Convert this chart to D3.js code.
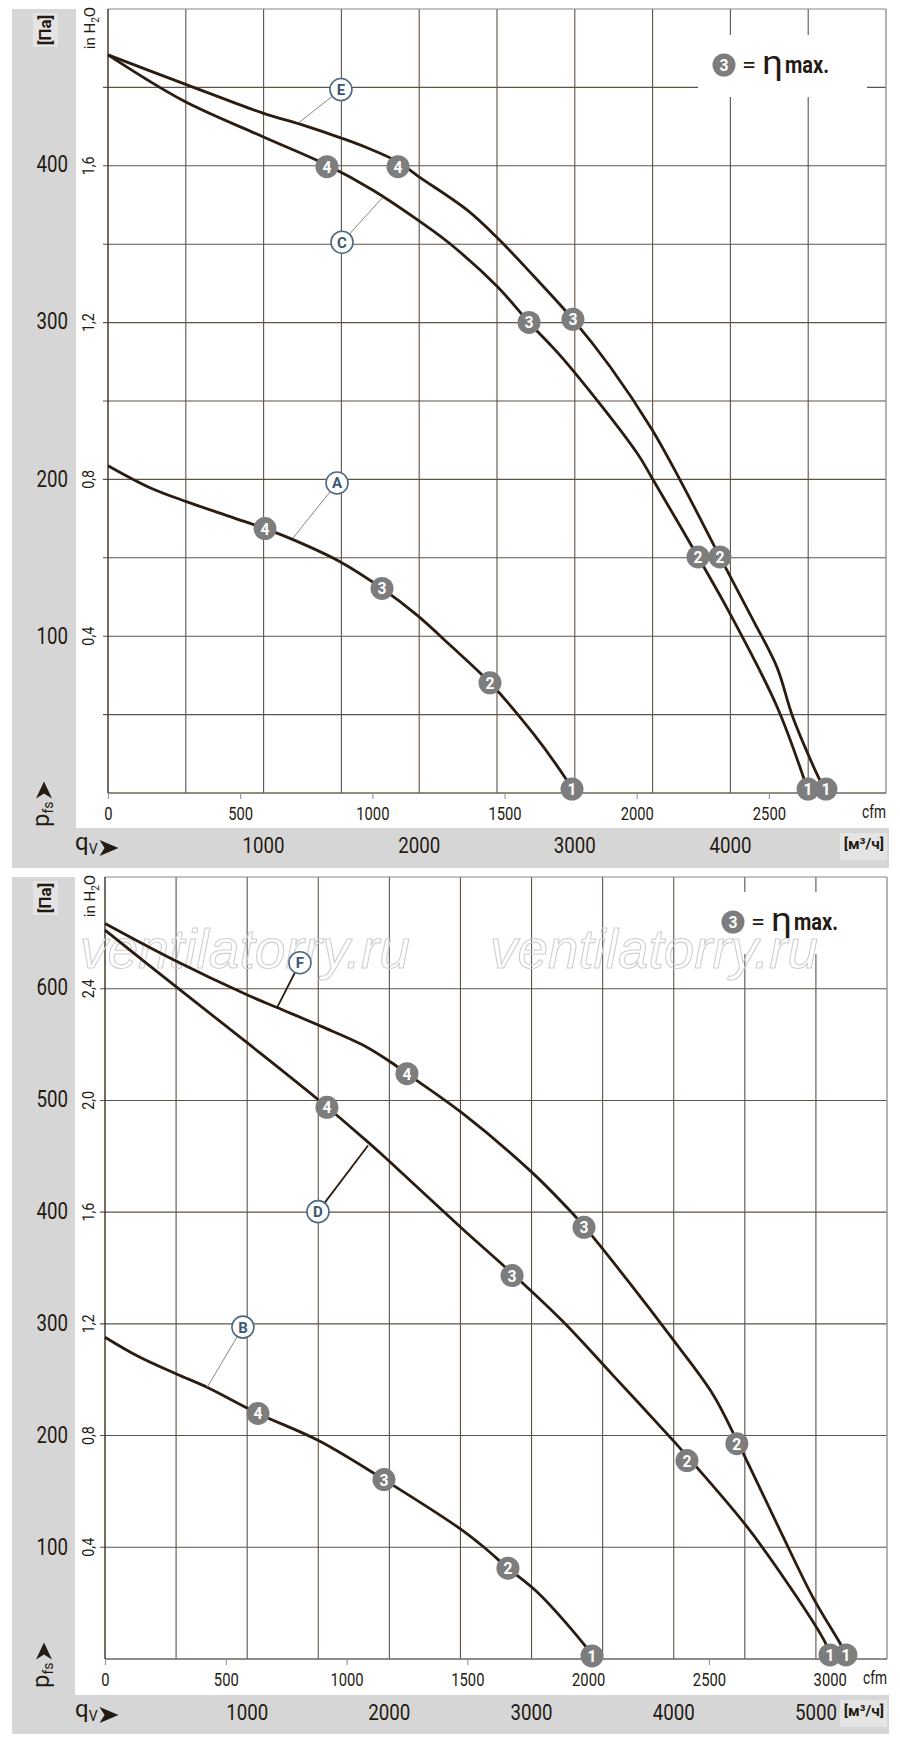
<!DOCTYPE html>
<html><head><meta charset="utf-8">
<script src="https://cdn.jsdelivr.net/npm/d3@7"></script>
<style>
body{margin:0;background:#fff}
svg{display:block}
text{font-family:Roboto,'Liberation Sans',sans-serif;fill:#231a12}
</style>
</head><body>
<svg id="c" width="900" height="1746"></svg>
<script>
const PA_PER_INH2O = 249.089;
const M3H_PER_CFM = 1.699011;

// ===== Chart 1 (top) — [m³/h, Pa] =====
const top_curveA = [[0,208],[270,194],[508,185],[803,175],[1009,168],[1189,161],[1491,147],[1761,130],[1986,113],[2198,94],[2455,70],[2731,38],[2950,8],[2978,3.5]];
const top_markersA = [[4,1009,168],[3,1761,130],[2,2455,70],[1,2982,2.5]];
const top_curveC = [[0,469],[482,440],[996,417],[1407,399],[1703,383],[1992,364],[2198,349],[2500,322],[2706,299],[2924,276],[3400,216],[3503,199],[3792,150],[3997,114],[4299,55],[4490,4]];
const top_markersC = [[4,1407,398],[3,2706,299],[2,3792,150],[1,4499,2.5]];
const top_curveE = [[0,469],[508,450],[996,432],[1234,425],[1504,416],[1665,410],[1864,401],[1992,392],[2307,370.5],[2500,353],[2731,329],[2988,301],[3226,271],[3496,231],[3676,199],[3933,150],[4145,110],[4299,80],[4402,48],[4576,8],[4600,4]];
const top_markersE = [[4,1864,398],[3,2988,301],[2,3933,150],[1,4614,2.5]];
// letter, label position [m³/h, Pa], leader end on curve [m³/h, Pa], leader style
const top_labels = [["E",1497,447,1227,426,"thin"],["C",1504,350,1761,378,"thin"],["A",1472,197,1189,162,"thin"]];
const top_paTicks = [100,200,300,400];
const top_inTicks = [0.4,0.8,1.2,1.6];
const top_cfmTicks = [0,500,1000,1500,2000,2500];
const top_m3hTicks = [1000,2000,3000,4000];

// ===== Chart 2 (bottom) — [m³/h, Pa] =====
const bot_curveB = [[0,287],[232,270],[506,254],[724,242],[1076,219],[1498,195],[1962,160],[2511,115],[2672,99],[2834,81],[3045,59],[3376,12],[3418,5]];
const bot_markersB = [[4,1076,219],[3,1962,160],[2,2834,81],[1,3425,2.7]];
const bot_curveD = [[0,650],[506,599],[1006,549],[1498,499],[1850,461],[1990,445],[2511,384],[2863,344],[3221,301],[3573,253],[3995,195],[4093,181],[4515,118],[4867,55],[5064,15],[5092,6]];
const bot_markersD = [[4,1561,492],[3,2863,342],[2,4093,177],[1,5099,3.6]];
const bot_curveF = [[0,656],[492,623],[1006,592],[1210,581],[1526,564],[1807,548],[1990,534],[2124,522],[2511,487],[3003,434],[3284,398],[3369,386],[3692,335],[3994,285],[4276,236],[4444,195],[4747,115],[4979,55],[5183,11],[5205,5]];
const bot_markersF = [[4,2124,522],[3,3369,385],[2,4444,192],[1,5211,3.6]];
const bot_labels = [["F",1371,621,1210,581,"thick"],["D",1498,399,1850,458,"thick"],["B",970,296,717,242,"thin"]];
const bot_paTicks = [100,200,300,400,500,600];
const bot_inTicks = [0.4,0.8,1.2,1.6,2.0,2.4];
const bot_cfmTicks = [0,500,1000,1500,2000,2500,3000];
const bot_m3hTicks = [1000,2000,3000,4000,5000];

const watermarkText = "ventilatorry.ru";

const svg = d3.select('#c');
const INK = '#2a1c10';

function condense(sel, perChar) {
  sel.attr('textLength', function () { return this.textContent.length * perChar; })
     .attr('lengthAdjust', 'spacingAndGlyphs');
}

function drawChart(cfg) {
  const g = svg.append('g');
  const x = d3.scaleLinear().domain([0, cfg.qMax]).range([cfg.left, cfg.right]);
  const y = d3.scaleLinear().domain([0, cfg.inMax * PA_PER_INH2O]).range([cfg.bottom, cfg.top]);
  const yin = d3.scaleLinear().domain([0, cfg.inMax]).range([cfg.bottom, cfg.top]);
  const xc = d3.scaleLinear().domain([0, cfg.qMax / M3H_PER_CFM]).range([cfg.left, cfg.right]);
  const band = '#d6d6d6';

  // gray bands
  g.append('rect').attr('x', 12).attr('y', cfg.top).attr('width', cfg.bandW)
    .attr('height', cfg.bandBottom - cfg.top).attr('fill', band);
  g.append('rect').attr('x', 12).attr('y', cfg.bandTop).attr('width', 877)
    .attr('height', cfg.bandBottom - cfg.bandTop).attr('fill', band);
  g.append('rect').attr('x', 33).attr('y', cfg.top + 4).attr('width', 25).attr('height', 34).attr('fill', '#e4e4e4');
  g.append('rect').attr('x', 840).attr('y', cfg.bandTop + 5).attr('width', 47).attr('height', 27).attr('fill', '#e4e4e4');

  // grid
  const qGrid = d3.range(500, cfg.qMax - 1, 500);
  const inGrid = d3.range(cfg.inStep, cfg.inMax - 1e-6, cfg.inStep);
  g.selectAll('line.vg').data(qGrid).join('line').attr('class', 'vg')
    .attr('x1', d => x(d)).attr('x2', d => x(d)).attr('y1', cfg.top).attr('y2', cfg.bottom)
    .attr('stroke', '#5e5349').attr('stroke-width', 1.1);
  g.selectAll('line.hg').data(inGrid).join('line').attr('class', 'hg')
    .attr('x1', cfg.left - 5).attr('x2', cfg.right).attr('y1', d => yin(d)).attr('y2', d => yin(d))
    .attr('stroke', '#5e5349').attr('stroke-width', 1.1);

  // frame
  g.append('line').attr('x1', cfg.left).attr('x2', cfg.right).attr('y1', cfg.top).attr('y2', cfg.top).attr('stroke', '#8d857c').attr('stroke-width', 1.2);
  g.append('line').attr('x1', cfg.right).attr('x2', cfg.right).attr('y1', cfg.top).attr('y2', cfg.bottom).attr('stroke', '#9a928a').attr('stroke-width', 1.4);
  g.append('line').attr('x1', cfg.left).attr('x2', cfg.right).attr('y1', cfg.bottom).attr('y2', cfg.bottom).attr('stroke', '#6d645b').attr('stroke-width', 1.3);
  g.append('line').attr('x1', cfg.left).attr('x2', cfg.left).attr('y1', cfg.top).attr('y2', cfg.bottom).attr('stroke', '#3a2f25').attr('stroke-width', 1.4);

  // legend box
  const L = cfg.legend;
  g.append('rect').attr('x', L[0] - 26).attr('y', L[1] - 30).attr('width', 169).attr('height', 62).attr('fill', '#fff');

  // watermark
  if (cfg.watermark) {
    g.selectAll('text.wm').data(cfg.watermark).join('text').attr('class', 'wm')
      .attr('x', d => d[0]).attr('y', d => d[1])
      .attr('textLength', d => d[2]).attr('lengthAdjust', 'spacingAndGlyphs')
      .style('font-family', "'Liberation Sans',Arial,sans-serif").style('font-style', 'italic')
      .style('font-size', '56px').style('fill', 'none').style('stroke', '#cfcfcf').style('stroke-width', 1.1)
      .text(watermarkText);
  }

  // cfm axis
  const ax = g.append('g').attr('transform', `translate(0,${cfg.bottom})`)
    .call(d3.axisBottom(xc).tickValues(cfg.cfmTicks).tickSize(6).tickPadding(8).tickFormat(d3.format('d')));
  ax.select('.domain').remove();
  ax.selectAll('.tick line').attr('stroke', '#9a9a9a').attr('stroke-width', 1.2);
  ax.selectAll('.tick text').attr('font-size', null).attr('font-family', null)
    .style('font-size', '18px').style('fill', '#231a12').call(condense, 8.3);
  g.append('text').attr('x', cfg.right).attr('y', cfg.bottom + 25).attr('text-anchor', 'end')
    .style('font-size', '18px').text('cfm').call(condense, 8);

  // Pa labels
  g.selectAll('text.pa').data(cfg.paTicks).join('text').attr('class', 'pa')
    .attr('x', 68).attr('y', d => y(d) + 8.5).attr('text-anchor', 'end')
    .style('font-size', '24px').text(d => d).call(condense, 10.5);
  // inH2O labels
  g.selectAll('text.inl').data(cfg.inTicks).join('text').attr('class', 'inl')
    .attr('transform', d => `translate(94,${yin(d)}) rotate(-90)`).attr('text-anchor', 'middle')
    .style('font-size', '16px').text(d => d3.format('.1f')(d).replace('.', ',')).call(condense, 6.3);
  const inUnit = g.append('text').attr('transform', `translate(95,${cfg.top + 19}) rotate(-90)`)
    .attr('text-anchor', 'middle').style('font-size', '15px');
  inUnit.append('tspan').text('in H');
  inUnit.append('tspan').attr('dy', 4).style('font-size', '10px').text('2');
  inUnit.append('tspan').attr('dy', -4).text('O');

  // m3/h labels in band
  g.selectAll('text.m3').data(cfg.m3hTicks).join('text').attr('class', 'm3')
    .attr('x', d => x(d)).attr('y', cfg.bandTop + 25).attr('text-anchor', 'middle')
    .style('font-size', '22px').text(d => d).call(condense, 10.5);
  g.append('text').attr('x', 884).attr('y', cfg.bandTop + 21).attr('text-anchor', 'end')
    .style('font-size', '15px').style('font-weight', 'bold').text('[м³/ч]').call(condense, 6.7);

  // [Па]
  g.append('text').attr('transform', `translate(51,${cfg.top + 21}) rotate(-90)`).attr('text-anchor', 'middle')
    .style('font-size', '16px').style('font-weight', 'bold').text('[Па]').call(condense, 7.6);

  // p_fs with arrow
  const pfs = g.append('text').attr('transform', `translate(49,${cfg.pfsY}) rotate(-90)`)
    .style('font-size', '24px');
  pfs.append('tspan').text('p');
  pfs.append('tspan').attr('dy', 4).style('font-size', '14px').text('fs');
  const plen = pfs.node().getComputedTextLength();
  const ay = cfg.pfsY - plen - 20;
  g.append('path').attr('d', `M44,${ay} L52,${ay + 17} L44,${ay + 12} L36,${ay + 17} Z`).attr('fill', '#231a12');

  // q_V with arrow
  const qv = g.append('text').attr('x', 75).attr('y', cfg.bandTop + 22).style('font-size', '24px');
  qv.append('tspan').text('q');
  qv.append('tspan').attr('dy', 4).style('font-size', '14px').text('V');
  const qlen = qv.node().getComputedTextLength();
  const bx = 75 + qlen + 2, by = cfg.bandTop + 20;
  g.append('path').attr('d', `M${bx},${by - 8} L${bx + 19},${by} L${bx},${by + 8} L${bx + 5},${by} Z`).attr('fill', '#231a12');

  // curves
  const line = d3.line().x(d => x(d[0])).y(d => y(d[1])).curve(d3.curveCatmullRom.alpha(0.5));
  g.selectAll('path.curve').data(cfg.curves).join('path').attr('class', 'curve')
    .attr('d', d => line(d)).attr('fill', 'none').attr('stroke', INK).attr('stroke-width', 2.8)
    .attr('stroke-linejoin', 'round');

  // letter labels
  const lab = g.selectAll('g.lab').data(cfg.labels).join('g').attr('class', 'lab');
  lab.append('line').attr('x1', d => x(d[1])).attr('y1', d => y(d[2])).attr('x2', d => x(d[3])).attr('y2', d => y(d[4]))
    .attr('stroke', d => d[5] === 'thick' ? INK : '#7d756d').attr('stroke-width', d => d[5] === 'thick' ? 1.8 : 0.9);
  lab.append('circle').attr('cx', d => x(d[1])).attr('cy', d => y(d[2])).attr('r', 11)
    .attr('fill', '#fff').attr('stroke', '#4d6985').attr('stroke-width', 1.6);
  lab.append('text').attr('x', d => x(d[1])).attr('y', d => y(d[2]) + 5.5).attr('text-anchor', 'middle')
    .style('font-size', '15px').style('font-weight', 'bold').style('fill', '#3d5773').text(d => d[0]);

  // markers
  const allMarkers = cfg.markers.flat();
  const mk = g.selectAll('g.mk').data(allMarkers).join('g').attr('class', 'mk');
  mk.append('circle').attr('cx', d => x(d[1])).attr('cy', d => y(d[2])).attr('r', 11.5).attr('fill', '#7d7d7d');
  mk.append('text').attr('x', d => x(d[1])).attr('y', d => y(d[2]) + 6).attr('text-anchor', 'middle')
    .style('font-size', '17px').style('font-weight', 'bold').style('fill', '#fff').text(d => d[0]).call(condense, 9);

  // legend
  g.append('circle').attr('cx', L[0]).attr('cy', L[1]).attr('r', 11.5).attr('fill', '#7d7d7d');
  g.append('text').attr('x', L[0]).attr('y', L[1] + 6).attr('text-anchor', 'middle')
    .style('font-size', '17px').style('font-weight', 'bold').style('fill', '#fff').text('3').call(condense, 9);
  g.append('text').attr('x', L[0] + 18).attr('y', L[1] + 7).style('font-size', '22px').text('=').call(condense, 14);
  g.append('text').attr('x', L[0] + 38).attr('y', L[1] + 9).style('font-size', '34px').text('η').call(condense, 21);
  g.append('text').attr('x', L[0] + 61).attr('y', L[1] + 8).style('font-size', '24px').style('font-weight', 'bold').text('max.').call(condense, 11);
}

drawChart({
  left: 108, right: 886, top: 9, bottom: 793, qMax: 5000, inMax: 2.0, inStep: 0.2,
  bandW: 64, bandTop: 828, bandBottom: 868, pfsY: 827,
  legend: [724, 65],
  cfmTicks: top_cfmTicks, paTicks: top_paTicks, inTicks: top_inTicks, m3hTicks: top_m3hTicks,
  curves: [top_curveA, top_curveC, top_curveE],
  markers: [top_markersA, top_markersC, top_markersE],
  labels: top_labels
});
drawChart({
  left: 105, right: 887, top: 877, bottom: 1659, qMax: 5500, inMax: 2.8, inStep: 0.4,
  bandW: 63, bandTop: 1695, bandBottom: 1734, pfsY: 1688,
  legend: [733, 922],
  cfmTicks: bot_cfmTicks, paTicks: bot_paTicks, inTicks: bot_inTicks, m3hTicks: bot_m3hTicks,
  curves: [bot_curveB, bot_curveD, bot_curveF],
  markers: [bot_markersB, bot_markersD, bot_markersF],
  labels: bot_labels,
  watermark: [[80, 968, 330], [490, 968, 328]]
});
</script>
</body></html>
